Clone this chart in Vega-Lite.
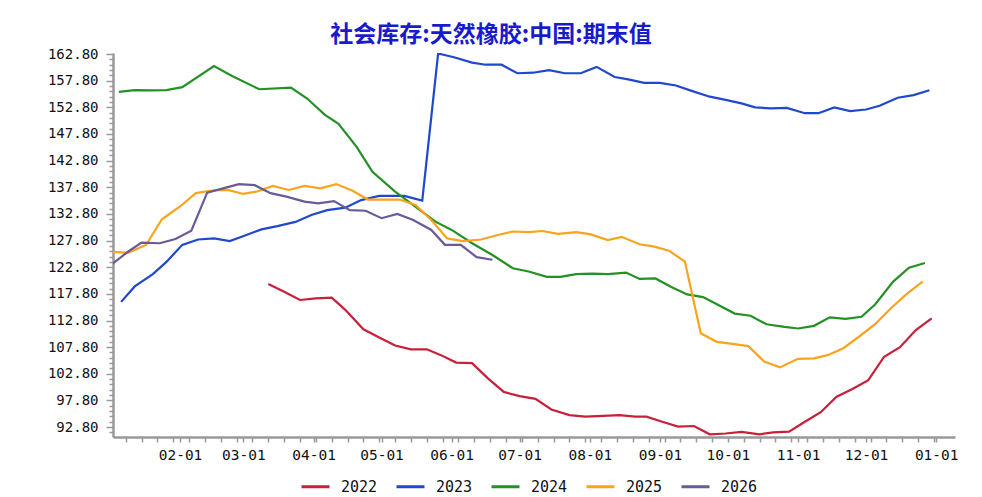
{
  "$schema": "https://vega.github.io/schema/vega-lite/v6.json",
  "width": 842,
  "height": 384,
  "autosize": "none",
  "padding": {"left": 113, "top": 53, "right": 27, "bottom": 60},
  "background": "white",
  "title": {
    "text": "社会库存:天然橡胶:中国:期末值",
    "anchor": "middle",
    "frame": "group",
    "dx": -43,
    "offset": 0,
    "font": "Noto Sans CJK SC",
    "fontSize": 23,
    "fontWeight": "bold",
    "color": "#1a1acd"
  },
  "config": {"view": {"stroke": null}},
  "data": {
    "values": [
      {"series": "2022", "date": "2023-03-12", "value": 119.65},
      {"series": "2022", "date": "2023-03-19", "value": 118.2},
      {"series": "2022", "date": "2023-03-26", "value": 116.65},
      {"series": "2022", "date": "2023-04-02", "value": 116.97},
      {"series": "2022", "date": "2023-04-09", "value": 117.1},
      {"series": "2022", "date": "2023-04-15", "value": 114.8},
      {"series": "2022", "date": "2023-04-23", "value": 111.15},
      {"series": "2022", "date": "2023-04-30", "value": 109.6},
      {"series": "2022", "date": "2023-05-07", "value": 108.1},
      {"series": "2022", "date": "2023-05-14", "value": 107.4},
      {"series": "2022", "date": "2023-05-21", "value": 107.4},
      {"series": "2022", "date": "2023-05-27", "value": 106.35},
      {"series": "2022", "date": "2023-06-03", "value": 104.9},
      {"series": "2022", "date": "2023-06-10", "value": 104.8},
      {"series": "2022", "date": "2023-06-17", "value": 101.95},
      {"series": "2022", "date": "2023-06-24", "value": 99.4},
      {"series": "2022", "date": "2023-07-01", "value": 98.6},
      {"series": "2022", "date": "2023-07-08", "value": 98.1},
      {"series": "2022", "date": "2023-07-15", "value": 96.1},
      {"series": "2022", "date": "2023-07-23", "value": 95.05},
      {"series": "2022", "date": "2023-07-30", "value": 94.75},
      {"series": "2022", "date": "2023-08-07", "value": 94.9},
      {"series": "2022", "date": "2023-08-14", "value": 95.05},
      {"series": "2022", "date": "2023-08-21", "value": 94.75},
      {"series": "2022", "date": "2023-08-26", "value": 94.75},
      {"series": "2022", "date": "2023-09-02", "value": 93.8},
      {"series": "2022", "date": "2023-09-09", "value": 92.9},
      {"series": "2022", "date": "2023-09-16", "value": 93.0},
      {"series": "2022", "date": "2023-09-23", "value": 91.45},
      {"series": "2022", "date": "2023-09-30", "value": 91.6},
      {"series": "2022", "date": "2023-10-07", "value": 91.9},
      {"series": "2022", "date": "2023-10-15", "value": 91.45},
      {"series": "2022", "date": "2023-10-21", "value": 91.8},
      {"series": "2022", "date": "2023-10-28", "value": 91.95},
      {"series": "2022", "date": "2023-11-04", "value": 93.8},
      {"series": "2022", "date": "2023-11-11", "value": 95.6},
      {"series": "2022", "date": "2023-11-18", "value": 98.5},
      {"series": "2022", "date": "2023-11-25", "value": 99.95},
      {"series": "2022", "date": "2023-12-02", "value": 101.6},
      {"series": "2022", "date": "2023-12-09", "value": 106.0},
      {"series": "2022", "date": "2023-12-16", "value": 107.8},
      {"series": "2022", "date": "2023-12-23", "value": 111.0},
      {"series": "2022", "date": "2023-12-30", "value": 113.2},

      {"series": "2023", "date": "2023-01-06", "value": 116.3},
      {"series": "2023", "date": "2023-01-12", "value": 119.2},
      {"series": "2023", "date": "2023-01-20", "value": 121.5},
      {"series": "2023", "date": "2023-01-26", "value": 123.8},
      {"series": "2023", "date": "2023-02-02", "value": 127.0},
      {"series": "2023", "date": "2023-02-09", "value": 128.0},
      {"series": "2023", "date": "2023-02-16", "value": 128.2},
      {"series": "2023", "date": "2023-02-23", "value": 127.7},
      {"series": "2023", "date": "2023-03-02", "value": 128.8},
      {"series": "2023", "date": "2023-03-09", "value": 129.9},
      {"series": "2023", "date": "2023-03-16", "value": 130.5},
      {"series": "2023", "date": "2023-03-24", "value": 131.3},
      {"series": "2023", "date": "2023-03-31", "value": 132.6},
      {"series": "2023", "date": "2023-04-07", "value": 133.5},
      {"series": "2023", "date": "2023-04-15", "value": 133.97},
      {"series": "2023", "date": "2023-04-22", "value": 135.4},
      {"series": "2023", "date": "2023-04-30", "value": 136.2},
      {"series": "2023", "date": "2023-05-05", "value": 136.2},
      {"series": "2023", "date": "2023-05-11", "value": 136.2},
      {"series": "2023", "date": "2023-05-19", "value": 135.3},
      {"series": "2023", "date": "2023-05-26", "value": 162.9},
      {"series": "2023", "date": "2023-06-02", "value": 162.2},
      {"series": "2023", "date": "2023-06-10", "value": 161.2},
      {"series": "2023", "date": "2023-06-16", "value": 160.8},
      {"series": "2023", "date": "2023-06-23", "value": 160.8},
      {"series": "2023", "date": "2023-06-30", "value": 159.2},
      {"series": "2023", "date": "2023-07-07", "value": 159.3},
      {"series": "2023", "date": "2023-07-14", "value": 159.8},
      {"series": "2023", "date": "2023-07-21", "value": 159.2},
      {"series": "2023", "date": "2023-07-28", "value": 159.2},
      {"series": "2023", "date": "2023-08-04", "value": 160.4},
      {"series": "2023", "date": "2023-08-12", "value": 158.5},
      {"series": "2023", "date": "2023-08-18", "value": 158.05},
      {"series": "2023", "date": "2023-08-25", "value": 157.4},
      {"series": "2023", "date": "2023-09-01", "value": 157.4},
      {"series": "2023", "date": "2023-09-08", "value": 156.9},
      {"series": "2023", "date": "2023-09-15", "value": 155.9},
      {"series": "2023", "date": "2023-09-23", "value": 154.8},
      {"series": "2023", "date": "2023-09-30", "value": 154.2},
      {"series": "2023", "date": "2023-10-07", "value": 153.55},
      {"series": "2023", "date": "2023-10-13", "value": 152.8},
      {"series": "2023", "date": "2023-10-20", "value": 152.6},
      {"series": "2023", "date": "2023-10-27", "value": 152.7},
      {"series": "2023", "date": "2023-11-04", "value": 151.7},
      {"series": "2023", "date": "2023-11-10", "value": 151.7},
      {"series": "2023", "date": "2023-11-17", "value": 152.8},
      {"series": "2023", "date": "2023-11-24", "value": 152.1},
      {"series": "2023", "date": "2023-12-01", "value": 152.4},
      {"series": "2023", "date": "2023-12-07", "value": 153.1},
      {"series": "2023", "date": "2023-12-15", "value": 154.6},
      {"series": "2023", "date": "2023-12-22", "value": 155.1},
      {"series": "2023", "date": "2023-12-29", "value": 156.0},

      {"series": "2024", "date": "2023-01-05", "value": 155.7},
      {"series": "2024", "date": "2023-01-12", "value": 156.05},
      {"series": "2024", "date": "2023-01-19", "value": 156.0},
      {"series": "2024", "date": "2023-01-26", "value": 156.05},
      {"series": "2024", "date": "2023-02-02", "value": 156.6},
      {"series": "2024", "date": "2023-02-16", "value": 160.55},
      {"series": "2024", "date": "2023-02-24", "value": 158.7},
      {"series": "2024", "date": "2023-03-08", "value": 156.2},
      {"series": "2024", "date": "2023-03-22", "value": 156.5},
      {"series": "2024", "date": "2023-03-29", "value": 154.5},
      {"series": "2024", "date": "2023-04-06", "value": 151.4},
      {"series": "2024", "date": "2023-04-12", "value": 149.7},
      {"series": "2024", "date": "2023-04-20", "value": 145.4},
      {"series": "2024", "date": "2023-04-27", "value": 140.7},
      {"series": "2024", "date": "2023-05-07", "value": 137.0},
      {"series": "2024", "date": "2023-05-18", "value": 133.5},
      {"series": "2024", "date": "2023-05-25", "value": 131.3},
      {"series": "2024", "date": "2023-06-01", "value": 129.8},
      {"series": "2024", "date": "2023-06-10", "value": 127.3},
      {"series": "2024", "date": "2023-06-19", "value": 125.1},
      {"series": "2024", "date": "2023-06-28", "value": 122.6},
      {"series": "2024", "date": "2023-07-05", "value": 122.0},
      {"series": "2024", "date": "2023-07-13", "value": 121.0},
      {"series": "2024", "date": "2023-07-19", "value": 121.0},
      {"series": "2024", "date": "2023-07-26", "value": 121.5},
      {"series": "2024", "date": "2023-08-02", "value": 121.6},
      {"series": "2024", "date": "2023-08-09", "value": 121.5},
      {"series": "2024", "date": "2023-08-17", "value": 121.8},
      {"series": "2024", "date": "2023-08-23", "value": 120.6},
      {"series": "2024", "date": "2023-08-30", "value": 120.7},
      {"series": "2024", "date": "2023-09-06", "value": 119.1},
      {"series": "2024", "date": "2023-09-13", "value": 117.7},
      {"series": "2024", "date": "2023-09-20", "value": 117.2},
      {"series": "2024", "date": "2023-09-27", "value": 115.65},
      {"series": "2024", "date": "2023-10-04", "value": 114.1},
      {"series": "2024", "date": "2023-10-11", "value": 113.7},
      {"series": "2024", "date": "2023-10-18", "value": 112.1},
      {"series": "2024", "date": "2023-10-26", "value": 111.6},
      {"series": "2024", "date": "2023-11-01", "value": 111.3},
      {"series": "2024", "date": "2023-11-08", "value": 111.8},
      {"series": "2024", "date": "2023-11-15", "value": 113.4},
      {"series": "2024", "date": "2023-11-22", "value": 113.1},
      {"series": "2024", "date": "2023-11-29", "value": 113.5},
      {"series": "2024", "date": "2023-12-05", "value": 115.8},
      {"series": "2024", "date": "2023-12-13", "value": 120.1},
      {"series": "2024", "date": "2023-12-20", "value": 122.7},
      {"series": "2024", "date": "2023-12-27", "value": 123.6},

      {"series": "2025", "date": "2023-01-02", "value": 125.7},
      {"series": "2025", "date": "2023-01-09", "value": 125.5},
      {"series": "2025", "date": "2023-01-17", "value": 126.97},
      {"series": "2025", "date": "2023-01-24", "value": 131.8},
      {"series": "2025", "date": "2023-02-01", "value": 134.2},
      {"series": "2025", "date": "2023-02-08", "value": 136.7},
      {"series": "2025", "date": "2023-02-15", "value": 137.2},
      {"series": "2025", "date": "2023-02-22", "value": 137.3},
      {"series": "2025", "date": "2023-03-01", "value": 136.55},
      {"series": "2025", "date": "2023-03-07", "value": 137.0},
      {"series": "2025", "date": "2023-03-14", "value": 138.05},
      {"series": "2025", "date": "2023-03-21", "value": 137.3},
      {"series": "2025", "date": "2023-03-28", "value": 138.05},
      {"series": "2025", "date": "2023-04-04", "value": 137.6},
      {"series": "2025", "date": "2023-04-11", "value": 138.4},
      {"series": "2025", "date": "2023-04-18", "value": 137.2},
      {"series": "2025", "date": "2023-04-25", "value": 135.5},
      {"series": "2025", "date": "2023-05-03", "value": 135.5},
      {"series": "2025", "date": "2023-05-09", "value": 135.5},
      {"series": "2025", "date": "2023-05-16", "value": 134.5},
      {"series": "2025", "date": "2023-05-23", "value": 131.65},
      {"series": "2025", "date": "2023-05-30", "value": 128.2},
      {"series": "2025", "date": "2023-06-06", "value": 127.7},
      {"series": "2025", "date": "2023-06-14", "value": 128.0},
      {"series": "2025", "date": "2023-06-21", "value": 128.8},
      {"series": "2025", "date": "2023-06-28", "value": 129.5},
      {"series": "2025", "date": "2023-07-05", "value": 129.4},
      {"series": "2025", "date": "2023-07-11", "value": 129.6},
      {"series": "2025", "date": "2023-07-18", "value": 129.05},
      {"series": "2025", "date": "2023-07-26", "value": 129.4},
      {"series": "2025", "date": "2023-08-01", "value": 129.0},
      {"series": "2025", "date": "2023-08-09", "value": 127.9},
      {"series": "2025", "date": "2023-08-15", "value": 128.5},
      {"series": "2025", "date": "2023-08-23", "value": 127.1},
      {"series": "2025", "date": "2023-08-29", "value": 126.7},
      {"series": "2025", "date": "2023-09-05", "value": 125.9},
      {"series": "2025", "date": "2023-09-12", "value": 123.85},
      {"series": "2025", "date": "2023-09-19", "value": 110.4},
      {"series": "2025", "date": "2023-09-26", "value": 108.8},
      {"series": "2025", "date": "2023-10-03", "value": 108.4},
      {"series": "2025", "date": "2023-10-10", "value": 108.0},
      {"series": "2025", "date": "2023-10-17", "value": 105.1},
      {"series": "2025", "date": "2023-10-24", "value": 104.0},
      {"series": "2025", "date": "2023-11-01", "value": 105.6},
      {"series": "2025", "date": "2023-11-08", "value": 105.7},
      {"series": "2025", "date": "2023-11-14", "value": 106.3},
      {"series": "2025", "date": "2023-11-21", "value": 107.6},
      {"series": "2025", "date": "2023-11-28", "value": 109.8},
      {"series": "2025", "date": "2023-12-05", "value": 112.1},
      {"series": "2025", "date": "2023-12-12", "value": 115.1},
      {"series": "2025", "date": "2023-12-19", "value": 117.8},
      {"series": "2025", "date": "2023-12-26", "value": 120.1},

      {"series": "2026", "date": "2023-01-02", "value": 123.4},
      {"series": "2026", "date": "2023-01-09", "value": 125.7},
      {"series": "2026", "date": "2023-01-15", "value": 127.4},
      {"series": "2026", "date": "2023-01-23", "value": 127.3},
      {"series": "2026", "date": "2023-01-30", "value": 128.1},
      {"series": "2026", "date": "2023-02-06", "value": 129.65},
      {"series": "2026", "date": "2023-02-13", "value": 136.8},
      {"series": "2026", "date": "2023-02-20", "value": 137.6},
      {"series": "2026", "date": "2023-02-27", "value": 138.4},
      {"series": "2026", "date": "2023-03-06", "value": 138.2},
      {"series": "2026", "date": "2023-03-13", "value": 136.7},
      {"series": "2026", "date": "2023-03-20", "value": 136.05},
      {"series": "2026", "date": "2023-03-28", "value": 135.1},
      {"series": "2026", "date": "2023-04-03", "value": 134.8},
      {"series": "2026", "date": "2023-04-10", "value": 135.2},
      {"series": "2026", "date": "2023-04-17", "value": 133.5},
      {"series": "2026", "date": "2023-04-24", "value": 133.4},
      {"series": "2026", "date": "2023-05-01", "value": 132.0},
      {"series": "2026", "date": "2023-05-08", "value": 132.8},
      {"series": "2026", "date": "2023-05-15", "value": 131.65},
      {"series": "2026", "date": "2023-05-23", "value": 129.8},
      {"series": "2026", "date": "2023-05-29", "value": 127.0},
      {"series": "2026", "date": "2023-06-05", "value": 127.0},
      {"series": "2026", "date": "2023-06-12", "value": 124.7},
      {"series": "2026", "date": "2023-06-19", "value": 124.2}
    ]
  },
  "mark": {"type": "line", "strokeWidth": 2.2, "clip": true},
  "encoding": {
    "x": {
      "field": "date",
      "type": "temporal",
      "title": null,
      "scale": {"type": "utc", "domain": [1672652160000, 1704784320000]},
      "axis": {
        "values": [1673136000000, 1673740800000, 1674345600000, 1674950400000, 1675209600000, 1675555200000, 1676160000000, 1676764800000, 1677369600000, 1677628800000, 1677974400000, 1678579200000, 1679184000000, 1679788800000, 1680307200000, 1680393600000, 1680998400000, 1681603200000, 1682208000000, 1682812800000, 1682899200000, 1683417600000, 1684022400000, 1684627200000, 1685232000000, 1685577600000, 1685836800000, 1686441600000, 1687046400000, 1687651200000, 1688169600000, 1688256000000, 1688860800000, 1689465600000, 1690070400000, 1690675200000, 1690848000000, 1691280000000, 1691884800000, 1692489600000, 1693094400000, 1693526400000, 1693699200000, 1694304000000, 1694908800000, 1695513600000, 1696118400000, 1696723200000, 1697328000000, 1697932800000, 1698537600000, 1698796800000, 1699142400000, 1699747200000, 1700352000000, 1700956800000, 1701388800000, 1701561600000, 1702166400000, 1702771200000, 1703376000000, 1703980800000, 1704067200000],
        "labelExpr": "utcdate(datum.value) == 1 ? utcFormat(datum.value, '%m-%d') : ''",
        "labelOverlap": false,
        "labelFont": "DejaVu Sans Mono",
        "labelFontSize": 14.5,
        "labelColor": "#111",
        "labelPadding": 6,
        "tickSize": 5,
        "tickColor": "#999",
        "tickWidth": 1.5,
        "domainColor": "#999",
        "domainWidth": 2.5,
        "grid": false
      }
    },
    "y": {
      "field": "value",
      "type": "quantitative",
      "title": null,
      "scale": {"domain": [90.94, 163.0], "nice": false, "zero": false},
      "axis": {
        "values": [91.8, 92.8, 93.8, 94.8, 95.8, 96.8, 97.8, 98.8, 99.8, 100.8, 101.8, 102.8, 103.8, 104.8, 105.8, 106.8, 107.8, 108.8, 109.8, 110.8, 111.8, 112.8, 113.8, 114.8, 115.8, 116.8, 117.8, 118.8, 119.8, 120.8, 121.8, 122.8, 123.8, 124.8, 125.8, 126.8, 127.8, 128.8, 129.8, 130.8, 131.8, 132.8, 133.8, 134.8, 135.8, 136.8, 137.8, 138.8, 139.8, 140.8, 141.8, 142.8, 143.8, 144.8, 145.8, 146.8, 147.8, 148.8, 149.8, 150.8, 151.8, 152.8, 153.8, 154.8, 155.8, 156.8, 157.8, 158.8, 159.8, 160.8, 161.8, 162.8],
        "format": ".2f",
        "labelExpr": "round((datum.value - 92.8) * 10) % 50 == 0 ? datum.label : ''",
        "labelOverlap": false,
        "labelFont": "DejaVu Sans Mono",
        "labelFontSize": 14,
        "labelColor": "#111",
        "labelPadding": 8,
        "tickSize": {"condition": {"test": "round((datum.value - 92.8) * 10) % 50 == 0", "value": 7}, "value": 4},
        "tickColor": "#999",
        "tickWidth": 1.5,
        "domainColor": "#999",
        "domainWidth": 2.5,
        "grid": false
      }
    },
    "color": {
      "field": "series",
      "type": "nominal",
      "scale": {
        "domain": ["2022", "2023", "2024", "2025", "2026"],
        "range": ["#C8203A", "#1F48CC", "#259025", "#F8A41C", "#6A5A98"]
      },
      "legend": {
        "title": null,
        "orient": "none",
        "legendX": 187,
        "legendY": 418,
        "direction": "horizontal",
        "symbolType": "stroke",
        "symbolSize": 784,
        "symbolStrokeWidth": 3,
        "labelFont": "DejaVu Sans Mono",
        "labelFontSize": 15,
        "labelColor": "#111",
        "labelOffset": 10,
        "columnPadding": 12
      }
    }
  }
}
